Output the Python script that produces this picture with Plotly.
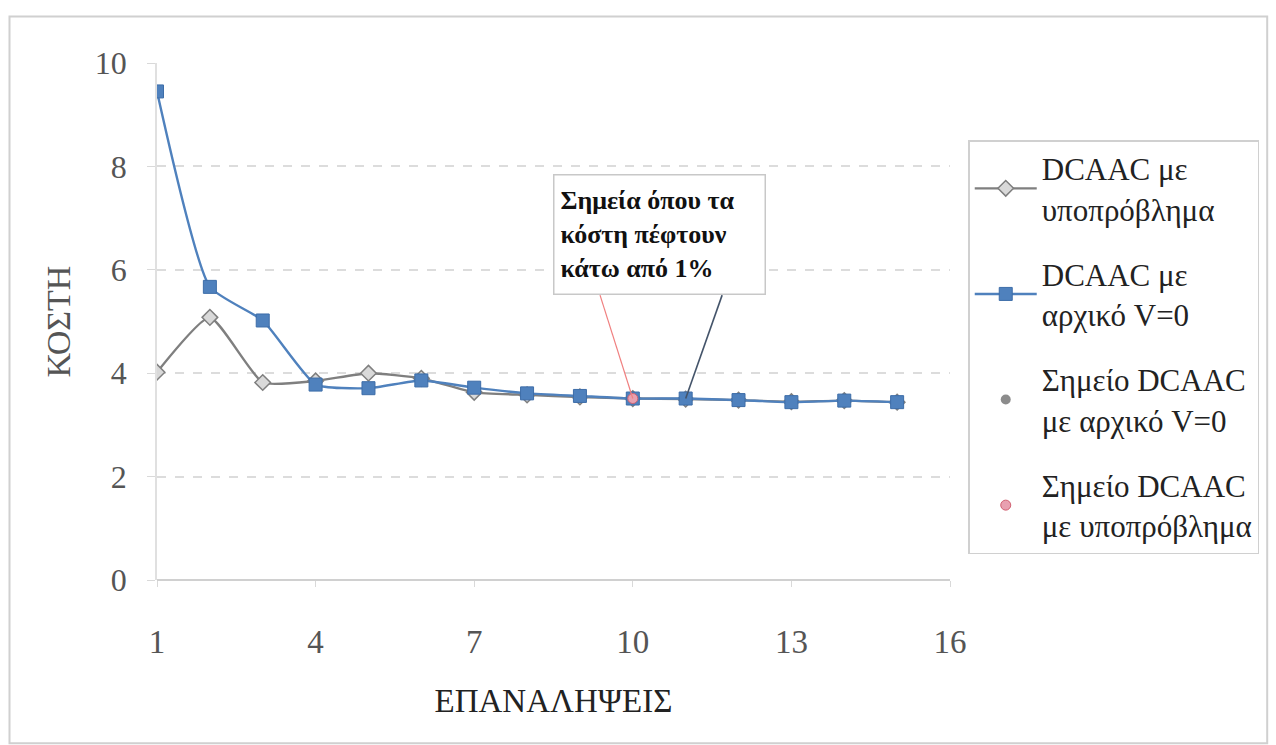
import plotly.graph_objects as go

iterations = list(range(1, 16))
cost_subproblem = [4.02, 5.08, 3.82, 3.85, 4.00, 3.90, 3.63, 3.58, 3.54, 3.51, 3.50, 3.48, 3.45, 3.47, 3.44]
cost_v0 = [9.45, 5.67, 5.02, 3.78, 3.71, 3.86, 3.72, 3.61, 3.56, 3.51, 3.51, 3.48, 3.44, 3.47, 3.44]
point_v0_x = [11]
point_v0_y = [cost_v0[10]]
point_sub_x = [10]
point_sub_y = [cost_subproblem[9]]

names = ["DCAAC με<br>υποπρόβλημα", "DCAAC με<br>αρχικό V=0",
         "Σημείο DCAAC<br>με αρχικό V=0", "Σημείο DCAAC<br>με υποπρόβλημα"]
annotation_text = "<b>Σημεία όπου τα<br>κόστη πέφτουν<br>κάτω από 1%</b>"

SERIF = "'Liberation Serif', 'Times New Roman', Times, serif"
GRAY = "#7f7f7f"
BLUE = "#4f81bd"

fig = go.Figure()
# grey point sits under the lines (hidden by the blue marker as in the original)
fig.add_trace(go.Scatter(
    x=point_v0_x, y=point_v0_y, name=names[2], mode="markers",
    marker=dict(symbol="circle", size=10, color="#8c8c8c"),
    legendgroup="c", legendrank=3))
fig.add_trace(go.Scatter(
    x=iterations, y=cost_subproblem, name=names[0], mode="lines+markers",
    line=dict(color=GRAY, width=2.4, shape="spline", smoothing=0.5),
    marker=dict(symbol="diamond", size=12, color="#d9d9d9", line=dict(color=GRAY, width=1.5)),
    legendgroup="a", legendrank=1))
fig.add_trace(go.Scatter(
    x=iterations, y=cost_v0, name=names[1], mode="lines+markers",
    line=dict(color=BLUE, width=2.4, shape="spline", smoothing=0.5),
    marker=dict(symbol="square", size=13, color=BLUE, line=dict(color="#3d6da8", width=1)),
    legendgroup="b", legendrank=2))
fig.add_trace(go.Scatter(
    x=point_sub_x, y=point_sub_y, name=names[3], mode="markers",
    marker=dict(symbol="circle", size=10, color="#e8a0b0", line=dict(color="#d06070", width=1)),
    legendgroup="d", legendrank=4))

# callout lines from the box to the two points
fig.add_shape(type="line", x0=9.38, y0=5.51, x1=point_sub_x[0], y1=point_sub_y[0],
              line=dict(color="#f08080", width=1.2))
fig.add_shape(type="line", x0=11.69, y0=5.51, x1=point_v0_x[0], y1=point_v0_y[0],
              line=dict(color="#44546a", width=1.6))

fig.add_annotation(x=10.5, y=6.69, xref="x", yref="y", text=annotation_text,
                   showarrow=False, align="left", width=198, height=106,
                   font=dict(family=SERIF, size=26, color="#111111"),
                   bgcolor="white", bordercolor="#c8c8c8", borderwidth=1.5, borderpad=6)

# outer chart border
fig.add_shape(type="rect", xref="paper", yref="paper",
              x0=-0.186, x1=1.40, y0=-0.316, y1=1.09,
              line=dict(color="#d0d0d0", width=2), fillcolor="rgba(0,0,0,0)", layer="below")

fig.update_layout(
    width=1276, height=745,
    margin=dict(l=157, r=326, t=63, b=165),
    paper_bgcolor="white", plot_bgcolor="white",
    font=dict(family=SERIF, color="#404040"),
    legend=dict(x=1.023, y=0.851, xanchor="left", yanchor="top",
                font=dict(family=SERIF, size=31, color="#222222"),
                bordercolor="#d0d0d0", borderwidth=1.5,
                traceorder="grouped", tracegroupgap=22, itemwidth=62),
    showlegend=True,
)
fig.update_xaxes(range=[1, 16], tickvals=[1, 4, 7, 10, 13, 16], showgrid=False,
                 zeroline=False, showline=False, ticks="outside", ticklen=6,
                 tickcolor="#d9d9d9", tickfont=dict(family=SERIF, size=33, color="#555555"),
                 ticklabelstandoff=26,
                 title=dict(text="ΕΠΑΝΑΛΗΨΕΙΣ", font=dict(family=SERIF, size=33, color="#222222"), standoff=30))
fig.update_yaxes(range=[0, 10], tickvals=[0, 2, 4, 6, 8, 10], showgrid=True,
                 gridcolor="#dcdcdc", griddash="dash", gridwidth=1.5,
                 zeroline=True, zerolinecolor="#d0d0d0", zerolinewidth=1.5,
                 showline=True, linecolor="#e0e0e0", linewidth=1.5,
                 ticks="outside", ticklen=8, tickcolor="#d9d9d9",
                 tickfont=dict(family=SERIF, size=32, color="#555555"),
                 ticklabelstandoff=14,
                 title=dict(text="ΚΟΣΤΗ", font=dict(family=SERIF, size=34, color="#555555"), standoff=14))

fig.write_html("out.html")
